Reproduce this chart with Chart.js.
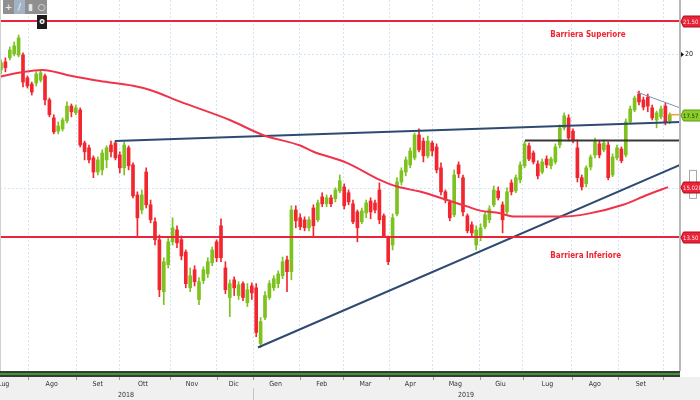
<!DOCTYPE html>
<html>
<head>
<meta charset="utf-8">
<script src="https://cdn.jsdelivr.net/npm/chart.js@4.4.1/dist/chart.umd.min.js"></script>
<style>
html, body { margin: 0; padding: 0; background: #fff; }
#wrap { position: relative; width: 700px; height: 400px; overflow: hidden; }
canvas { display: block; }
.tools { position: absolute; left: 3px; top: 0; width: 44px; height: 14px; background: #8f8f8f; display: flex; }
.tools span { flex: 1; color: #e8e8e8; font: bold 9px 'DejaVu Sans', sans-serif; text-align: center; line-height: 14px; }
.tools span.on { background: #a3b3c6; }
.lock { position: absolute; left: 37px; top: 15px; width: 10px; height: 14px; background: #1c1c1c; color: #fff; font: bold 8px 'DejaVu Sans', sans-serif; text-align: center; line-height: 14px; }
</style>
</head>
<body>
<div id="wrap">
  <canvas id="chart" width="700" height="400"></canvas>
  <div class="tools"><span>+</span><span class="on">/</span><span>▮</span><span>○</span></div>
  <div class="lock">o</div>
</div>
<script>
// candles, one every two sessions, Jul 2018 - Oct 2019
const opens = [19.35,19.69,19.86,20.03,19.98,19.98,19.02,18.77,18.81,18.93,
  19.10,18.14,17.45,16.96,17.04,17.34,17.90,17.64,17.75,16.53,
  16.36,16.01,15.53,15.60,15.94,16.46,16.53,16.11,15.67,16.36,
  15.77,14.78,14.31,15.53,14.47,13.95,13.42,12.00,12.72,13.36,
  13.71,13.42,13.07,12.10,12.58,11.80,12.29,12.47,12.77,13.36,
  13.83,12.63,11.85,12.31,11.90,12.21,11.72,12.15,12.10,10.73,
  11.35,11.85,12.10,12.21,12.42,12.85,12.53,14.31,14.07,14.01,
  13.77,14.37,14.01,14.72,14.50,14.69,14.66,14.91,15.04,14.85,
  14.50,14.25,13.95,14.22,14.59,14.53,14.94,14.13,13.48,13.27,
  14.19,15.20,15.53,15.77,16.01,16.82,16.60,16.08,16.53,16.39,
  15.67,14.88,14.56,14.16,15.77,15.34,14.13,13.86,13.27,13.48,
  13.80,14.01,14.47,14.91,14.47,14.25,15.17,14.91,15.27,15.74,
  16.43,16.18,15.80,15.53,15.97,15.74,15.87,16.46,17.08,17.45,
  16.96,16.36,15.34,15.14,15.70,16.11,16.50,16.29,16.46,15.43,
  16.01,16.32,16.11,17.30,17.75,18.37,18.14,18.25,17.83,17.37,
  17.49,17.90,17.34];
const highs = [19.77,19.86,20.33,20.55,20.86,20.07,19.10,18.85,19.27,19.31,
  19.18,18.21,17.57,17.30,17.45,18.06,17.98,17.94,17.83,16.60,
  16.46,16.08,16.04,16.29,16.43,16.60,16.60,16.22,16.57,16.43,
  15.84,14.88,14.94,15.67,14.62,14.07,13.56,12.91,13.48,14.07,
  13.83,13.53,13.13,12.63,12.69,12.37,12.66,12.91,13.21,13.42,
  14.04,12.80,12.31,12.39,12.26,12.26,12.21,12.23,12.21,11.35,
  12.00,12.29,12.42,12.55,12.93,12.96,14.44,14.44,14.19,14.10,
  14.10,14.47,14.62,14.85,14.78,14.78,15.01,15.43,15.14,14.94,
  14.62,14.31,14.37,14.62,14.69,14.62,15.17,14.19,13.53,14.19,
  15.34,15.67,16.04,16.36,16.89,17.04,16.71,16.78,16.60,16.50,
  15.84,14.94,14.62,15.60,15.87,15.43,14.19,13.95,13.83,13.89,
  14.25,14.44,15.07,15.04,14.56,15.01,15.27,15.43,15.87,16.60,
  16.53,16.25,15.91,15.97,16.08,16.04,16.50,17.19,17.64,17.57,
  17.04,16.64,15.43,15.74,16.11,16.71,16.60,16.64,16.57,16.15,
  16.46,16.39,17.41,17.90,18.29,18.49,18.25,18.37,17.94,17.71,
  17.90,18.02,17.64];
const lows = [19.18,19.27,19.77,19.94,19.90,18.65,18.61,18.33,18.69,18.85,
  17.94,17.49,16.86,16.86,16.96,17.26,17.49,17.57,16.39,15.94,
  15.84,15.34,15.43,15.43,15.67,16.04,15.94,15.50,15.43,15.60,
  14.69,13.50,14.19,14.37,13.92,13.27,11.87,11.67,12.63,13.27,
  13.19,12.85,12.10,12.00,12.15,11.67,12.21,12.37,12.69,12.80,
  12.80,11.95,11.37,11.90,11.80,11.77,11.62,11.80,10.89,10.64,
  11.30,11.80,12.03,12.10,12.34,12.00,12.31,13.77,13.71,13.68,
  13.68,13.48,13.95,14.41,14.41,14.41,14.56,14.85,14.34,14.47,
  13.89,13.36,13.89,14.07,14.04,14.22,13.89,13.48,12.72,13.13,
  14.13,15.10,15.40,15.67,15.94,16.22,15.87,16.01,16.08,15.50,
  14.78,14.53,13.98,14.10,15.34,14.13,13.62,13.53,13.13,13.39,
  13.74,13.92,14.41,14.62,13.62,14.19,14.78,14.85,15.17,15.67,
  15.91,15.80,15.30,15.47,15.67,15.63,15.80,16.36,17.00,16.60,
  16.53,15.20,14.94,15.04,15.60,16.01,16.01,16.22,15.27,15.37,
  15.94,15.84,16.04,17.23,17.68,17.94,17.75,17.68,17.37,17.08,
  17.41,17.19,17.23];
const closes = [19.65,19.44,20.20,20.38,20.73,18.85,18.69,18.45,19.18,19.23,
  18.14,17.57,16.93,17.15,17.37,17.90,17.68,17.83,16.46,16.22,
  15.94,15.53,15.94,16.18,16.36,16.22,16.01,15.67,16.46,15.74,
  14.75,14.07,14.78,14.47,14.01,13.42,12.05,12.80,13.36,13.77,
  13.33,12.96,12.21,12.42,12.26,12.26,12.58,12.80,13.13,12.91,
  12.91,12.05,12.21,12.10,12.18,11.85,12.05,11.97,10.99,11.25,
  11.90,12.21,12.34,12.47,12.80,12.53,14.31,13.98,13.80,13.77,
  14.01,13.83,14.53,14.50,14.69,14.50,14.94,15.24,14.44,14.56,
  13.95,13.77,14.28,14.53,14.25,14.31,14.01,13.53,12.80,14.07,
  15.20,15.57,15.94,16.25,16.82,16.29,16.08,16.60,16.25,15.60,
  14.88,14.62,14.07,15.43,15.47,14.25,13.68,13.62,13.71,13.77,
  14.16,14.34,14.94,14.69,14.01,14.88,14.88,15.34,15.77,16.50,
  15.97,15.87,15.40,15.87,15.77,15.97,16.39,17.08,17.53,16.71,
  16.64,15.34,15.04,15.67,16.04,16.57,16.11,16.53,15.34,16.04,
  16.36,15.91,17.30,17.79,18.21,18.06,17.86,17.90,17.45,17.64,
  17.79,17.30,17.57];

// 200 day moving average
const maX = [-0.2,4.3,9.5,15,22.5,30,33.9,40.7,52,59.5,68,70.9,78.6,86.1,90,95.2,101.4,105.9,108.9,113.4,116.4,127.7,133.2,141.4,146.8,151.6];
const maY = [19.07,19.24,19.35,19.14,18.89,18.70,18.53,18.07,17.37,16.82,16.44,16.23,15.84,15.27,15.05,14.89,14.62,14.42,14.29,14.21,14.11,14.11,14.19,14.47,14.78,15.03];

// levels and drawn lines
const barrierUp = 21.5;
const barrierDown = 13.5;
const lastPrice = 17.57;
const maLast = 15.028;
const resistance = 16.62;
const upperTrend = [[25.9, 16.60], [154.32, 17.30]];
const lowerTrend = [[58.4, 10.64], [154.32, 15.77]];
const wedgeTop = [[144.5, 18.45], [154.32, 17.83]];

// axis labels
const monthLabels = ['Lug','Ago','Set','Ott','Nov','Dic','Gen','Feb','Mar','Apr','Mag','Giu','Lug','Ago','Set'];
const monthPos = [0.61,11.52,21.98,32.27,43.41,52.89,62.39,72.89,82.84,93.02,103.25,113.52,124.2,134.95,145.41];
const monthEdges = [6.2,17.05,26.89,38.41,49.02,57.34,67.95,77.8,88.25,98.11,108.86,118.57,129.7,140.3,150.52];
const yearLabels = ['2018','2019'];
const yearPos = [28.4,105.7];

const xMin = -0.227, xMax = 154.32;
const FONT = "'Liberation Sans Narrow','DejaVu Sans Condensed',sans-serif";
const GREEN = '#7dc21e', RED = '#f2262e';

const candleColor = c => closes[c.dataIndex] >= opens[c.dataIndex] ? GREEN : RED;
const seg = (pts) => pts.map(p => ({x: p[0], y: p[1]}));
const flat = (v, from, to) => [{x: from, y: v}, {x: to, y: v}];
const lineSet = (data, color, width, extra) => Object.assign({
  type: 'line', data, borderColor: color, borderWidth: width, pointRadius: 0, order: 1
}, extra || {});

const decor = {
  id: 'decor',
  beforeDraw(chart) {
    const {ctx, width, height, chartArea: a} = chart;
    ctx.save();
    ctx.fillStyle = '#fff';
    ctx.fillRect(0, 0, width, height);
    ctx.fillStyle = '#f0f0f0';
    ctx.fillRect(0, a.bottom + 6, width, height - a.bottom - 6);
    ctx.restore();
  },
  afterDraw(chart) {
    const {ctx, width, chartArea: a} = chart;
    const xs = chart.scales.x, ys = chart.scales.y;
    ctx.save();
    // navigator strip
    ctx.fillStyle = '#3a3a3a';
    ctx.fillRect(0, a.bottom, a.right, 6);
    ctx.fillStyle = '#3c9a2c';
    ctx.fillRect(0, a.bottom + 2, a.right, 2);
    ctx.strokeStyle = '#9a9a9a';
    ctx.lineWidth = 1;
    xs.ticks.forEach(t => {
      const px = Math.round(xs.getPixelForValue(t.value)) + 0.5;
      ctx.beginPath(); ctx.moveTo(px, a.bottom + 6); ctx.lineTo(px, a.bottom + 9); ctx.stroke();
    });
    const sep = Math.round(xs.getPixelForValue(monthEdges[5])) + 0.5;
    ctx.strokeStyle = '#c4c4c4';
    ctx.beginPath(); ctx.moveTo(sep, a.bottom + 17); ctx.lineTo(sep, chart.height); ctx.stroke();
    // frame lines
    ctx.fillStyle = '#b8b8b8';
    ctx.fillRect(a.right - 1, 0, 2, a.bottom);
    ctx.fillStyle = '#d0d0d0';
    ctx.fillRect(0, 0, 1, a.bottom);
    // arrow on the 20 tick
    const y20 = ys.getPixelForValue(20);
    ctx.fillStyle = '#111';
    ctx.beginPath(); ctx.moveTo(a.right + 1, y20 - 2.5); ctx.lineTo(a.right + 4, y20); ctx.lineTo(a.right + 1, y20 + 2.5); ctx.fill();
    // scroll handle
    ctx.strokeStyle = '#a8a8a8';
    ctx.strokeRect(689.5, ys.getPixelForValue(15.6) + 0.5, 7, 28);
    // barrier captions
    ctx.font = 'bold 8px ' + FONT;
    ctx.fillStyle = '#ee2430';
    ctx.textAlign = 'center';
    ctx.textBaseline = 'middle';
    ctx.fillText('Barriera Superiore', xs.getPixelForValue(133.4), ys.getPixelForValue(20.86));
    ctx.fillText('Barriera Inferiore', xs.getPixelForValue(132.9), ys.getPixelForValue(12.96));
    // value tags on the price axis
    const tag = (v, txt, fill, edge, fg) => {
      const y = Math.round(ys.getPixelForValue(v)) + 0.5;
      const x = a.right + 1;
      ctx.beginPath();
      ctx.moveTo(x, y); ctx.lineTo(x + 2.5, y - 5.5); ctx.lineTo(width + 2, y - 5.5);
      ctx.lineTo(width + 2, y + 5.5); ctx.lineTo(x + 2.5, y + 5.5); ctx.closePath();
      ctx.fillStyle = fill; ctx.fill();
      ctx.strokeStyle = edge; ctx.stroke();
      ctx.fillStyle = fg;
      ctx.font = '6px ' + FONT;
      ctx.textAlign = 'left';
      ctx.fillText(txt, x + 2, y + 0.5);
    };
    tag(barrierUp, '21.50', '#ec2238', '#a8101c', '#ffe8ea');
    tag(lastPrice, '17.57', '#8ccd2a', '#5c9a10', '#17300a');
    tag(maLast, '15.028', '#ec2238', '#a8101c', '#ffe8ea');
    tag(barrierDown, '13.50', '#ec2238', '#a8101c', '#ffe8ea');
    ctx.restore();
  }
};

new Chart(document.getElementById('chart'), {
  type: 'bar',
  data: {
    datasets: [
      { type: 'bar', data: highs.map((h, i) => ({x: i, y: [lows[i], h]})), backgroundColor: candleColor,
        barThickness: 1, grouped: false, borderWidth: 0, order: 3 },
      { type: 'bar', data: opens.map((o, i) => ({x: i, y: [o, closes[i]]})), backgroundColor: candleColor,
        barThickness: 3, grouped: false, borderWidth: 0, order: 2 },
      lineSet(flat(barrierUp, xMin, xMax), '#e8253a', 2),
      lineSet(flat(barrierDown, xMin, xMax), '#e8253a', 2),
      lineSet(maX.map((x, i) => ({x, y: maY[i]})), '#f0334b', 2, {tension: 0.4, cubicInterpolationMode: 'monotone'}),
      lineSet(seg(upperTrend), '#2f4a72', 2),
      lineSet(seg(lowerTrend), '#2f4a72', 2),
      lineSet(seg(wedgeTop), '#7592b8', 1),
      lineSet(flat(resistance, 119.1, xMax), '#383838', 2),
      lineSet(flat(lastPrice, 151.6, xMax), '#f0a030', 1.5)
    ]
  },
  options: {
    responsive: false,
    devicePixelRatio: 1,
    animation: false,
    events: [],
    layout: { padding: 0 },
    plugins: { legend: { display: false }, tooltip: { enabled: false } },
    scales: {
      x: {
        type: 'linear', position: 'bottom', min: xMin, max: xMax, offset: false, bounds: 'data',
        afterBuildTicks: s => { s.ticks = monthEdges.map(v => ({value: v})); },
        afterFit: s => { s.height = 0; s.paddingLeft = 0; s.paddingRight = 0; },
        grid: { color: '#d3e4f4', drawTicks: false, offset: false },
        border: { display: false, dash: [2, 2] },
        ticks: { display: false }
      },
      xm: {
        type: 'linear', axis: 'x', position: 'bottom', min: xMin, max: xMax, offset: false, bounds: 'data',
        afterBuildTicks: s => { s.ticks = monthPos.map(v => ({value: v})); },
        afterFit: s => { s.height = 18; s.paddingLeft = 0; s.paddingRight = 0; },
        grid: { display: false, drawTicks: false },
        border: { display: false },
        ticks: { autoSkip: false, maxRotation: 0, padding: 9, color: '#333',
          font: { size: 7, family: FONT }, callback: (v, i) => monthLabels[i] }
      },
      xy: {
        type: 'linear', axis: 'x', position: 'bottom', min: xMin, max: xMax, offset: false, bounds: 'data',
        afterBuildTicks: s => { s.ticks = yearPos.map(v => ({value: v})); },
        afterFit: s => { s.height = 11; s.paddingLeft = 0; s.paddingRight = 0; },
        grid: { display: false, drawTicks: false },
        border: { display: false },
        ticks: { autoSkip: false, maxRotation: 0, padding: 2, color: '#333',
          font: { size: 7, family: FONT }, callback: (v, i) => yearLabels[i] }
      },
      y: {
        type: 'logarithmic', position: 'right', min: 10.115, max: 22.495, bounds: 'data',
        afterBuildTicks: s => { s.ticks = [{value: 15}, {value: 20}]; },
        afterFit: s => { s.width = 20; s.paddingTop = 0; s.paddingBottom = 0; },
        grid: { color: '#d3e4f4', drawTicks: false },
        border: { display: false, dash: [2, 2] },
        ticks: { padding: 5, color: '#222', font: { size: 7, family: FONT },
          callback: v => (v === 20 ? '20' : '') }
      }
    }
  },
  plugins: [decor]
});
</script>
</body>
</html>
